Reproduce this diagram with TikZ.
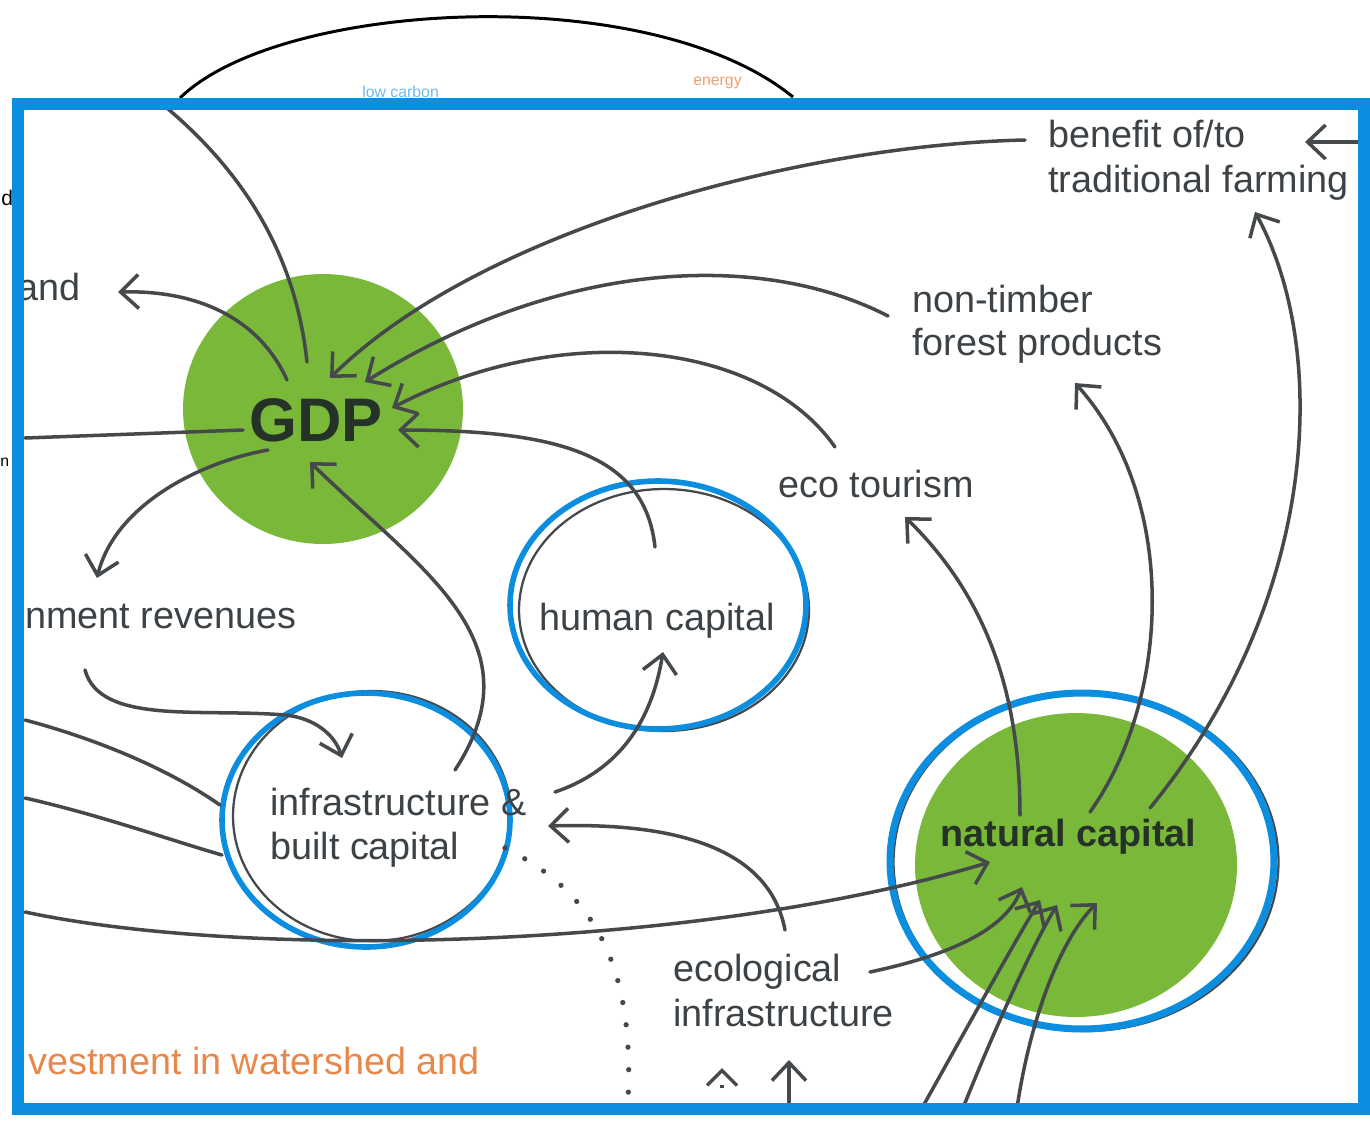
\documentclass[tikz,border=0pt]{standalone}
\usepackage{fontspec}
\setmainfont{Liberation Sans}
\usetikzlibrary{arrows.meta,shapes.geometric}
\definecolor{fblue}{RGB}{11,141,224}
\definecolor{ggreen}{RGB}{122,184,58}
\definecolor{txt}{RGB}{60,66,70}
\definecolor{lineg}{RGB}{69,73,76}
\definecolor{orng}{RGB}{232,135,74}
\definecolor{dkgreen}{RGB}{36,50,40}
\begin{document}
\begin{tikzpicture}[x=0.02cm,y=-0.02cm,
  conn/.style={draw=lineg, line width=2pt, line cap=round},
  arr/.style={conn, -{Straight Barb[length=0.36cm,width=0.68cm]}},
  lbl/.style={anchor=base west, inner sep=0, text=txt, font=\fontsize{21.5}{25}\selectfont},
  ring/.style={ellipse, draw=fblue, line width=3.2pt, inner sep=0},
  thinring/.style={ellipse, draw=lineg, line width=1.3pt, inner sep=0},
  tiny/.style={anchor=base west, inner sep=0, font=\fontsize{9}{10}\selectfont},
]
\useasboundingbox (0,0) rectangle (1370,1120);

% green discs
\node[ellipse, fill=ggreen, inner sep=0, minimum width=5.6cm, minimum height=5.4cm] (gdp) at (323,409) {};
\node[ellipse, fill=ggreen, inner sep=0, minimum width=6.44cm, minimum height=6.08cm] (natural) at (1076,865) {};

% ring outlines
\node[thinring, minimum width=5.8cm, minimum height=4.84cm] (humanline) at (664,610) {};
\node[ring, minimum width=5.92cm, minimum height=4.96cm] (human) at (658,605) {};
\node[thinring, minimum width=5.56cm, minimum height=5.0cm] (infraline) at (372,816) {};
\node[ring, minimum width=5.76cm, minimum height=5.08cm] (infra) at (366,820) {};
\node[thinring, minimum width=7.7cm, minimum height=6.76cm] (naturalline) at (1086,862) {};
\node[ring, line width=4pt, minimum width=7.68cm, minimum height=6.72cm] (naturalring) at (1082,861) {};

% endpoints
\coordinate (frameL1) at (25,438);   \coordinate (gdpL) at (243,430);
\coordinate (gdpAnd) at (287,380);   \coordinate (andTip) at (118,292);
\coordinate (frameT1) at (167,108);  \coordinate (gdpT) at (307,362);
\coordinate (gdpRev) at (268,450);   \coordinate (revTip) at (97,578);
\coordinate (benL) at (1025,140);    \coordinate (gdpA1) at (330,378);
\coordinate (ntL) at (888,316);      \coordinate (gdpA2) at (365,382);
\coordinate (ecoL) at (835,447);     \coordinate (gdpA3) at (392,408);
\coordinate (humT) at (655,547);     \coordinate (gdpA4) at (398,430);
\coordinate (infT) at (455,770);     \coordinate (gdpB) at (310,462);
\coordinate (revB) at (85,670);      \coordinate (revMid) at (285,715);
\coordinate (infTip1) at (342,758);
\coordinate (frameL2) at (25,720);   \coordinate (infL1) at (220,805);
\coordinate (frameL3) at (25,798);   \coordinate (infL2) at (222,855);
\coordinate (frameL4) at (25,912);   \coordinate (natA1) at (990,862);
\coordinate (ecolT) at (785,930);    \coordinate (infR) at (548,826);
\coordinate (infR2) at (555,792);    \coordinate (humB) at (663,652);
\coordinate (infD) at (505,848);     \coordinate (frameB1) at (628,1100);
\coordinate (natT1) at (1020,815);   \coordinate (ecoTip) at (905,517);
\coordinate (natT2) at (1090,812);   \coordinate (ntTip) at (1075,383);
\coordinate (natT3) at (1150,808);   \coordinate (benTip) at (1255,212);
\coordinate (ecolR) at (870,972);    \coordinate (natA2) at (1022,887);
\coordinate (frameB2) at (922,1108); \coordinate (natA3) at (1040,900);
\coordinate (frameB3) at (963,1108); \coordinate (natA4) at (1057,905);
\coordinate (frameB4) at (1017,1108);\coordinate (natA5) at (1097,903);
\coordinate (frameR) at (1362,142);  \coordinate (benR) at (1305,142);
\coordinate (frameB5) at (789,1106); \coordinate (ecolB) at (789,1060);
\coordinate (caretB) at (722,1088);  \coordinate (caretT) at (722,1068);
\coordinate (arcL) at (180,98);      \coordinate (arcR) at (793,97);

% connectors
\draw[conn] (frameL1) -- (gdpL);
\draw[arr] (gdpAnd) .. controls (260,320) and (200,290) .. (andTip);
\draw[conn] (frameT1) .. controls (240,170) and (295,250) .. (gdpT);
\draw[arr] (gdpRev) .. controls (200,462) and (115,505) .. (revTip);
\draw[arr] (benL) .. controls (800,145) and (480,230) .. (gdpA1);
\draw[arr] (ntL) .. controls (760,250) and (560,260) .. (gdpA2);
\draw[arr] (ecoL) .. controls (760,340) and (560,320) .. (gdpA3);
\draw[arr] (humT) .. controls (645,455) and (560,430) .. (gdpA4);
\draw[arr] (infT) .. controls (540,640) and (420,570) .. (gdpB);
\draw[arr] (revB) .. controls (100,725) and (200,708) .. (revMid) .. controls (315,718) and (335,735) .. (infTip1);
\draw[conn] (frameL2) .. controls (100,740) and (170,770) .. (infL1);
\draw[conn] (frameL3) .. controls (100,815) and (170,840) .. (infL2);
\draw[arr] (frameL4) .. controls (250,960) and (700,950) .. (natA1);
\draw[arr] (ecolT) .. controls (770,850) and (680,822) .. (infR);
\draw[arr] (infR2) .. controls (620,770) and (652,720) .. (humB);
\draw[lineg, line width=3pt, line cap=round, dash pattern=on 0pt off 0.45cm] (infD) .. controls (590,890) and (635,960) .. (frameB1);
\draw[arr] (natT1) .. controls (1020,700) and (990,600) .. (ecoTip);
\draw[arr] (natT2) .. controls (1170,700) and (1180,500) .. (ntTip);
\draw[arr] (natT3) .. controls (1320,600) and (1330,350) .. (benTip);
\draw[arr] (ecolR) .. controls (950,955) and (1005,930) .. (natA2);
\draw[arr] (frameB2) .. controls (960,1040) and (1010,950) .. (natA3);
\draw[arr] (frameB3) .. controls (990,1040) and (1030,950) .. (natA4);
\draw[arr] (frameB4) .. controls (1030,1020) and (1060,940) .. (natA5);
\draw[arr] (frameR) -- (benR);
\draw[arr] (frameB5) -- (ecolB);
\draw[lineg, line width=2pt, dash pattern=on 2pt off 14pt, -{Straight Barb[length=0.3cm,width=0.6cm]}] (caretB) -- (caretT);
\draw[black, line width=1.7pt] (arcL) .. controls (280,0) and (650,-20) .. (arcR);

% labels
\node[anchor=center, inner sep=0, text=dkgreen, font=\fontsize{35}{40}\selectfont\bfseries] (gdplabel) at (316,420) {GDP};
\node[lbl] (andlabel) at (17,300) {and};
\node[lbl] (revlabel) at (25,628) {nment revenues};
\node[lbl] (ben1) at (1048,147) {benefit of/to};
\node[lbl] (ben2) at (1048,192) {traditional farming};
\node[lbl] (nt1) at (912,312) {non-timber};
\node[lbl] (nt2) at (912,355) {forest products};
\node[lbl] (eco) at (778,497) {eco tourism};
\node[lbl] (humanlabel) at (539,630) {human capital};
\node[lbl] (inf1) at (270,815) {infrastructure \&};
\node[lbl] (inf2) at (270,859) {built capital};
\node[lbl, text=dkgreen, font=\fontsize{21.5}{25}\selectfont\bfseries] (natlabel) at (940,846) {natural capital};
\node[lbl] (ecol1) at (673,981) {ecological};
\node[lbl] (ecol2) at (673,1026) {infrastructure};
\node[lbl, text=orng] (invest) at (28,1074) {vestment in watershed and};
\node[tiny, text=fblue!60] (lowc) at (362,97) {low carbon};
\node[tiny, text=orng!80] (energy) at (693,85) {energy};
\node[tiny, text=black, font=\fontsize{12}{12}\selectfont] (dfrag) at (1,205) {d};
\node[tiny, text=black, font=\fontsize{9}{9}\selectfont] (nfrag) at (0,466) {n};

% frame
\draw[fblue, line width=6.8pt] (18,104) rectangle (1364,1109);
\end{tikzpicture}
\end{document}
